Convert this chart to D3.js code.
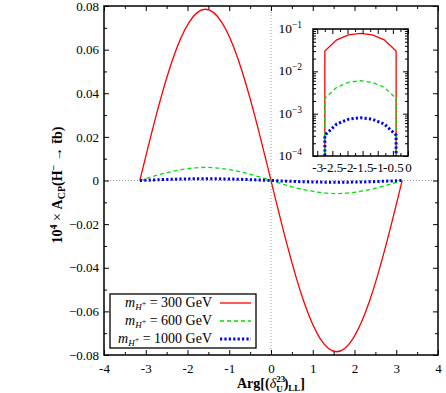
<!DOCTYPE html>
<meta charset="utf-8">
<style>
  body { margin: 0; background: #fff; }
  svg { font-family: "Liberation Serif", serif; }
</style>
<body>
<div id="chart"></div>
<script src="https://d3js.org/d3.v7.min.js"></script>
<script>

// phase values (x), -pi .. pi
const phase = [-3.1416, -2.7489, -2.3562, -1.9635, -1.5708, -1.1781, -0.7854, -0.3927, 0,
               0.3927, 0.7854, 1.1781, 1.5708, 1.9635, 2.3562, 2.7489, 3.1416];
// 10^4 x A_CP for each charged Higgs mass
const acp300 = [0, 0.0300, 0.0555, 0.0725, 0.0785, 0.0725, 0.0555, 0.0300, 0,
                -0.0300, -0.0555, -0.0725, -0.0785, -0.0725, -0.0555, -0.0300, 0];
const acp600 = [0, 0.0023, 0.0042, 0.0055, 0.0060, 0.0055, 0.0042, 0.0023, 0,
                -0.0023, -0.0042, -0.0055, -0.0060, -0.0055, -0.0042, -0.0023, 0];
const acp1000 = [0, 0.00031, 0.00057, 0.00074, 0.00080, 0.00074, 0.00057, 0.00031, 0,
                 -0.00031, -0.00057, -0.00074, -0.00080, -0.00074, -0.00057, -0.00031, 0];
const masses = ["300", "600", "1000"];

const xTicks = [-4, -3, -2, -1, 0, 1, 2, 3, 4];
const xMinor = [-3.5, -2.5, -1.5, -0.5, 0.5, 1.5, 2.5, 3.5];
const yTicks = [-0.08, -0.06, -0.04, -0.02, 0, 0.02, 0.04, 0.06, 0.08];
const yMinor = [-0.07, -0.05, -0.03, -0.01, 0.01, 0.03, 0.05, 0.07];
const insetXTicks = [-3, -2.5, -2, -1.5, -1, -0.5, 0];
const insetXMinor = [-2.75, -2.25, -1.75, -1.25, -0.75, -0.25];
const insetYTicks = [1e-4, 1e-3, 1e-2, 1e-1];

const width = 446, height = 393;
const styles = [
  {color: "#ff0000", width: 1.3, dash: null},
  {color: "#00e000", width: 1.3, dash: "4,3"},
  {color: "#0000ff", width: 3, dash: "2.2,2.2"}
];
const series = [acp300, acp600, acp1000];

const svg = d3.select("#chart").append("svg")
  .attr("width", width).attr("height", height)
  .style("font-size", "13px");

const x = d3.scaleLinear([-4, 4], [104, 438]);
const y = d3.scaleLinear([-0.08, 0.08], [355, 6]);

// rich text helper: parts with vertical level (px, + = down)
function rich(sel, parts) {
  let cur = 0;
  parts.forEach(p => {
    const lvl = p.lvl || 0;
    const ts = sel.append("tspan").text(p.t).attr("dy", lvl - cur);
    if (p.dx) ts.attr("dx", p.dx);
    if (p.size) ts.attr("font-size", p.size);
    if (p.it) ts.attr("font-style", "italic");
    if (p.w) ts.attr("font-weight", p.w);
    cur = lvl;
  });
}

function frameAxes(g, xs, ys, opts) {
  const [x0, x1] = xs.range(), [y0, y1] = ys.range();
  g.append("g").attr("transform", `translate(0,${y0})`)
    .call(d3.axisBottom(xs).tickValues(opts.xt).tickSize(-opts.major).tickPadding(opts.padX).tickFormat(opts.fmtX));
  g.append("g").attr("transform", `translate(0,${y0})`)
    .call(d3.axisBottom(xs).tickValues(opts.xm).tickSize(-opts.minor).tickFormat(""));
  g.append("g").attr("transform", `translate(0,${y1})`)
    .call(d3.axisTop(xs).tickValues(opts.xt).tickSize(-opts.major).tickFormat(""));
  g.append("g").attr("transform", `translate(0,${y1})`)
    .call(d3.axisTop(xs).tickValues(opts.xm).tickSize(-opts.minor).tickFormat(""));
  g.append("g").attr("transform", `translate(${x0},0)`)
    .call(d3.axisLeft(ys).tickValues(opts.yt).tickSize(-opts.major).tickPadding(opts.padY).tickFormat(opts.fmtY));
  g.append("g").attr("transform", `translate(${x0},0)`)
    .call(d3.axisLeft(ys).tickValues(opts.ym).tickSize(-opts.minor).tickFormat(""));
  g.append("g").attr("transform", `translate(${x1},0)`)
    .call(d3.axisRight(ys).tickValues(opts.yt).tickSize(-opts.major).tickFormat(""));
  g.append("g").attr("transform", `translate(${x1},0)`)
    .call(d3.axisRight(ys).tickValues(opts.ym).tickSize(-opts.minor).tickFormat(""));
  g.selectAll(".domain").remove();
  g.selectAll(".tick line").attr("stroke", "#000").attr("stroke-width", 1);
  g.selectAll(".tick text").attr("fill", "#000")
    .style("font-family", "Liberation Serif, serif").style("font-size", "13px");
  g.append("rect").attr("x", x0).attr("y", y1).attr("width", x1 - x0).attr("height", y0 - y1)
    .attr("fill", "none").attr("stroke", "#000").attr("stroke-width", 1.5);
}

// zero reference lines
svg.append("line").attr("x1", x(-4)).attr("x2", x(4)).attr("y1", y(0)).attr("y2", y(0))
  .attr("stroke", "#888").attr("stroke-width", 0.8).attr("stroke-dasharray", "1,2");
svg.append("line").attr("x1", x(0)).attr("x2", x(0)).attr("y1", y(-0.08)).attr("y2", y(0.08))
  .attr("stroke", "#888").attr("stroke-width", 0.8).attr("stroke-dasharray", "1,2");

const line = d3.line().x((d, i) => x(phase[i])).y(d => y(d)).curve(d3.curveNatural);
series.forEach((s, k) => {
  svg.append("path").attr("d", line(s)).attr("fill", "none")
    .attr("stroke", styles[k].color).attr("stroke-width", styles[k].width)
    .attr("stroke-dasharray", styles[k].dash);
});

frameAxes(svg.append("g"), x, y, {
  xt: xTicks, xm: xMinor, yt: yTicks, ym: yMinor, major: 5, minor: 3, padX: 9, padY: 5,
  fmtX: d => String(d), fmtY: d => d === 0 ? "0" : d3.format(".2f")(d)
});

// axis titles
const yl = svg.append("text").attr("transform", "translate(62,185) rotate(-90)")
  .attr("text-anchor", "middle").attr("font-weight", "bold").attr("font-size", 14);
rich(yl, [
  {t: "10"}, {t: "4", lvl: -5, size: 10}, {t: " × ", w: "normal"}, {t: "A"}, {t: "CP", lvl: 3, size: 10},
  {t: "(H"}, {t: "−", lvl: -5, size: 10}, {t: " → ", w: "normal"}, {t: "t\u0304b)"}
]);

const xl = svg.append("text").attr("x", 271).attr("y", 388)
  .attr("text-anchor", "middle").attr("font-weight", "bold").attr("font-size", 14);
rich(xl, [
  {t: "Arg[("}, {t: "δ", it: true, w: "normal"}, {t: "23", lvl: -6, size: 9},
  {t: "U", lvl: 4, size: 9, dx: -9}, {t: ")", dx: 1}, {t: "LL", lvl: 3, size: 9}, {t: "]"}
]);

// legend
const lg = svg.append("g");
lg.append("rect").attr("x", 110).attr("y", 294).attr("width", 146).attr("height", 54)
  .attr("fill", "#fff").attr("stroke", "#000").attr("stroke-width", 1.3);
masses.forEach((m, k) => {
  const cy = 303 + k * 18;
  const t = lg.append("text").attr("x", 212).attr("y", cy + 4).attr("text-anchor", "end")
    .attr("font-size", 14);
  rich(t, [
    {t: "m", it: true}, {t: "H", it: true, lvl: 3, size: 9}, {t: "+", lvl: -1, size: 8},
    {t: " = " + m + " GeV"}
  ]);
  lg.append("line").attr("x1", 220).attr("x2", 251).attr("y1", cy).attr("y2", cy)
    .attr("stroke", styles[k].color).attr("stroke-width", styles[k].width)
    .attr("stroke-dasharray", styles[k].dash);
});

// inset: |A_CP| on log scale for negative phase
const ix = d3.scaleLinear([-3.14, 0], [313, 408]);
const iy = d3.scaleLog([1e-4, 1e-1], [156, 29]);
const ins = svg.append("g");
ins.append("rect").attr("x", 313).attr("y", 29).attr("width", 95).attr("height", 127).attr("fill", "#fff");
series.forEach((s, k) => {
  const pts = phase.map((p, i) => [p, Math.abs(s[i])]).filter(d => d[0] <= 0 && d[1] > 0);
  const path = [[pts[0][0], 1e-4], ...pts, [pts[pts.length - 1][0], 1e-4]];
  ins.append("path")
    .attr("d", d3.line().x(d => ix(d[0])).y(d => iy(d[1]))(path))
    .attr("fill", "none").attr("stroke", styles[k].color).attr("stroke-width", styles[k].width)
    .attr("stroke-dasharray", styles[k].dash);
});
const logMinor = [];
[1e-4, 1e-3, 1e-2].forEach(b => d3.range(2, 10).forEach(m => logMinor.push(b * m)));
frameAxes(ins, ix, iy, {
  xt: insetXTicks, xm: insetXMinor, yt: insetYTicks, ym: logMinor, major: 5, minor: 3, padX: 7, padY: 11,
  fmtX: d => String(d), fmtY: () => ""
});
insetYTicks.forEach(v => {
  const t = ins.append("text").attr("x", 302).attr("y", iy(v) + 4).attr("text-anchor", "end")
    .attr("font-size", 13.5);
  rich(t, [{t: "10"}, {t: "−" + Math.round(-Math.log10(v)), lvl: -5, size: 9.5}]);
});
</script>
